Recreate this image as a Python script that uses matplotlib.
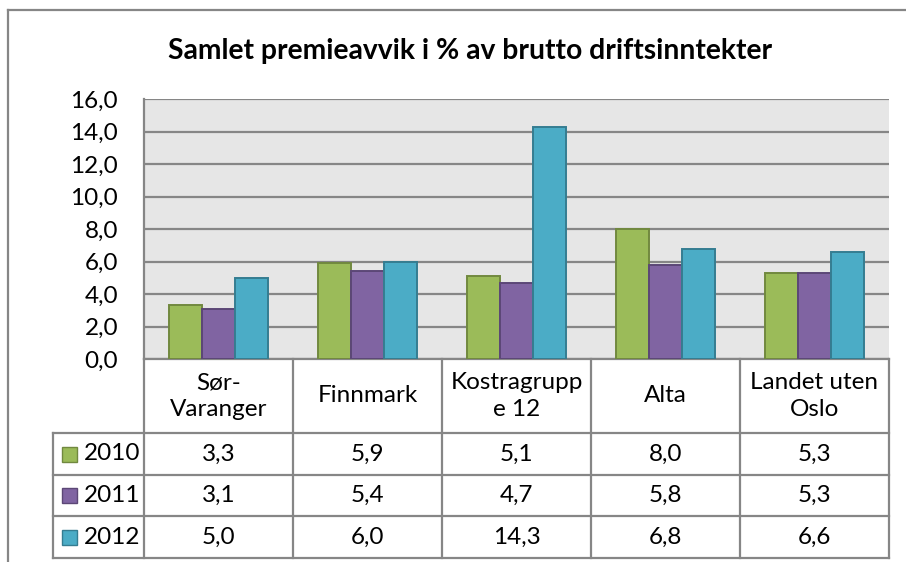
import numpy as np
import matplotlib.pyplot as plt
import matplotlib.transforms as mtransforms
from matplotlib.patches import Rectangle

# ================================
#      DATA
# ================================
categories = ["Sør-\nVaranger", "Finnmark", "Kostragrupp\ne 12", "Alta", "Landet uten\nOslo"]
years = ["2010", "2011", "2012"]
v2010 = [3.3, 5.9, 5.1, 8.0, 5.3]
v2011 = [3.1, 5.4, 4.7, 5.8, 5.3]
v2012 = [5.0, 6.0, 14.3, 6.8, 6.6]
series = [v2010, v2011, v2012]

colors = ["#9BBB59", "#8064A2", "#4BACC6"]
edges = ["#71893F", "#5C4776", "#357D91"]
grid_c = "#868686"

W, H = 906, 562
plt.rcParams['font.family'] = ['Lato', 'DejaVu Sans']
FS = 17.5


def fx(px):
    return px / W


def fy(py):
    return 1 - py / H


def fmt(v):
    return f"{v:.1f}".replace(".", ",")


fig = plt.figure(figsize=(W / 100, H / 100), dpi=100)

# ytre ramme (bare venstre og topp synlig)
fig.add_artist(plt.Line2D([fx(8), fx(8)], [fy(10), 0], color=grid_c, lw=1.6))
fig.add_artist(plt.Line2D([fx(8), 1], [fy(10), fy(10)], color=grid_c, lw=1.6))

fig.text(fx(470), fy(51), "Samlet premieavvik i % av brutto driftsinntekter",
         ha="center", va="center", fontsize=20.3, fontweight="bold")

# ================================
#      PLOTTOMRÅDE
# ================================
left, right, top, bottom = 144, 889, 99, 359
ax = fig.add_axes([fx(left), fy(bottom), (right - left) / W, (bottom - top) / H])
ax.set_facecolor("#E6E6E6")

x = np.arange(len(categories))
bw = 1 / 4.5
for i, (vals, c, e) in enumerate(zip(series, colors, edges)):
    ax.bar(x + (i - 1) * bw, vals, width=bw, color=c, edgecolor=e, linewidth=1.4, zorder=3)

ax.set_xlim(-0.5, len(categories) - 0.5)
ax.set_ylim(0, 16)
ax.set_yticks(np.arange(0, 17, 2))
ax.set_yticklabels([fmt(v) for v in np.arange(0, 17, 2)], fontsize=FS)
ax.set_xticks([])
ax.tick_params(axis="y", length=0, pad=18.7)
ax.yaxis.grid(True, color=grid_c, lw=1.6)
ax.set_axisbelow(True)
for s in ["top", "right"]:
    ax.spines[s].set_visible(False)
for s in ["left", "bottom"]:
    ax.spines[s].set_color(grid_c)
    ax.spines[s].set_linewidth(1.6)

# ================================
#      DATATABELL
# ================================
blend = mtransforms.blended_transform_factory(ax.transData, fig.transFigure)
rows = [359, 433, 475, 516, 558]
x_lo, x_hi = -0.5, len(categories) - 0.5

# horisontale linjer
for r in rows[1:]:
    fig.add_artist(plt.Line2D([fx(53), fx(right)], [fy(r), fy(r)], color=grid_c, lw=1.6))
# vertikale linjer
for k in range(len(categories) + 1):
    ax.plot([x_lo + k, x_lo + k], [fy(rows[0]), fy(rows[-1])], transform=blend,
            color=grid_c, lw=1.6, clip_on=False)
fig.add_artist(plt.Line2D([fx(53), fx(53)], [fy(rows[1]), fy(rows[-1])], color=grid_c, lw=1.6))

# kategoritekster
for i, cat in enumerate(categories):
    ax.text(i, fy((rows[0] + rows[1]) / 2), cat, transform=blend, ha="center", va="center",
            fontsize=FS, linespacing=1.35)

# verdier og forklaring
for j, (yr, vals, c, e) in enumerate(zip(years, series, colors, edges)):
    yc = fy((rows[j + 1] + rows[j + 2]) / 2)
    for i, v in enumerate(vals):
        ax.text(i, yc, fmt(v), transform=blend, ha="center", va="center", fontsize=FS)
    fig.add_artist(Rectangle((fx(62), yc - 7.5 / H), 15 / W, 15 / H, facecolor=c,
                             edgecolor=e, lw=1.0, transform=fig.transFigure))
    fig.text(fx(84), yc, yr, ha="left", va="center", fontsize=FS)

fig.savefig("out.png", dpi=100)
